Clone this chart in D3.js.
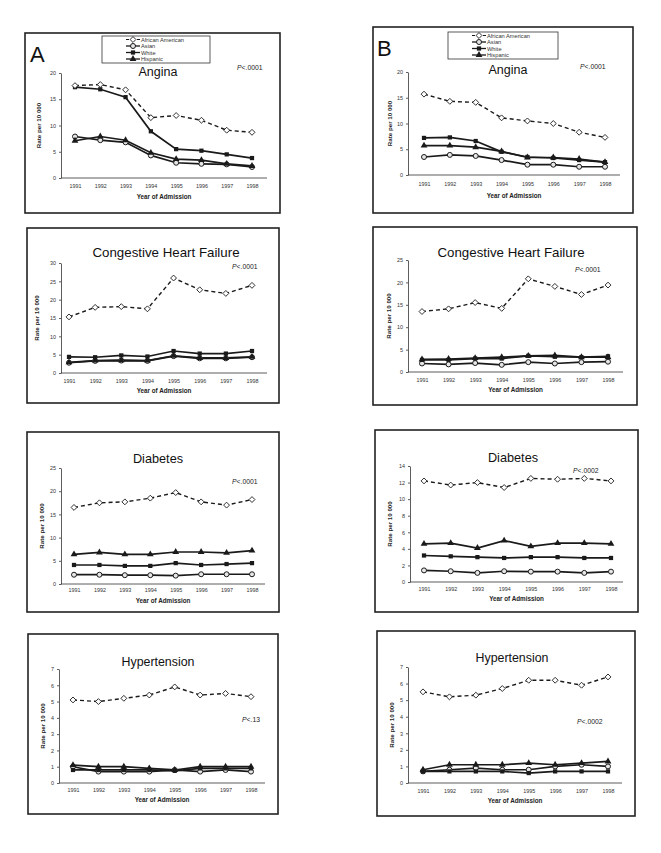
<!DOCTYPE html>
<html><head><meta charset="utf-8">
<script src="https://cdn.jsdelivr.net/npm/d3@7/dist/d3.min.js"></script>
<style>
html,body{margin:0;padding:0;background:#fff;}
svg{display:block;font-family:"Liberation Sans",Arial,sans-serif;}
</style></head>
<body>
<svg id="chart" width="661" height="853"></svg>
<script>
// ---------- DATA ----------
const years = [1991, 1992, 1993, 1994, 1995, 1996, 1997, 1998];
const seriesNames = ["African American", "Asian", "White", "Hispanic"];
const panelTitles = ["Angina", "Congestive Heart Failure", "Diabetes", "Hypertension"];
const panelLetters = ["A", "B"];
const pLabelsA = ["<.0001", "<.0001", "<.0001", "<.13"];
const pLabelsB = ["<.0001", "<.0001", "<.0002", "<.0002"];
const yTicksAngina = [0, 5, 10, 15, 20];
const yTicksChfA = [0, 5, 10, 15, 20, 25, 30];
const yTicksChfB = [0, 5, 10, 15, 20, 25];
const yTicksDiabA = [0, 5, 10, 15, 20, 25];
const yTicksDiabB = [0, 2, 4, 6, 8, 10, 12, 14];
const yTicksHtn = [0, 1, 2, 3, 4, 5, 6, 7];
const xAxisTitle = "Year of Admission";
const yAxisTitle = "Rate per 10 000";

const anginaA_AfricanAmerican = [17.6, 17.8, 16.8, 11.5, 11.9, 11.0, 9.1, 8.7];
const anginaA_Asian           = [7.9, 7.2, 6.8, 4.3, 2.9, 2.7, 2.6, 2.1];
const anginaA_White           = [17.3, 16.9, 15.4, 8.9, 5.5, 5.2, 4.5, 3.8];
const anginaA_Hispanic        = [7.1, 7.9, 7.2, 4.8, 3.6, 3.4, 2.7, 2.3];

const anginaB_AfricanAmerican = [15.7, 14.3, 14.1, 11.1, 10.5, 10.0, 8.3, 7.3];
const anginaB_Asian           = [3.5, 3.9, 3.7, 2.9, 2.0, 2.0, 1.6, 1.6];
const anginaB_White           = [7.2, 7.3, 6.6, 4.5, 3.5, 3.3, 2.9, 2.5];
const anginaB_Hispanic        = [5.7, 5.7, 5.4, 4.6, 3.4, 3.4, 3.1, 2.5];

const chfA_AfricanAmerican = [15.3, 17.9, 18.1, 17.5, 25.9, 22.7, 21.7, 23.9];
const chfA_Asian           = [2.8, 3.3, 3.4, 3.3, 4.6, 4.0, 4.0, 4.3];
const chfA_White           = [4.4, 4.3, 4.8, 4.5, 6.0, 5.3, 5.3, 6.0];
const chfA_Hispanic        = [2.9, 3.4, 3.5, 3.4, 4.7, 4.1, 4.1, 4.4];

const chfB_AfricanAmerican = [13.5, 14.1, 15.5, 14.2, 20.8, 19.1, 17.3, 19.4];
const chfB_Asian           = [1.9, 1.7, 2.0, 1.6, 2.2, 1.9, 2.2, 2.3];
const chfB_White           = [2.7, 2.7, 3.0, 3.0, 3.6, 3.4, 3.3, 3.5];
const chfB_Hispanic        = [2.8, 2.9, 3.1, 3.3, 3.6, 3.7, 3.3, 3.3];

const diabA_AfricanAmerican = [16.5, 17.5, 17.7, 18.5, 19.7, 17.7, 17.0, 18.2];
const diabA_Asian           = [2.0, 2.0, 1.9, 1.9, 1.8, 2.1, 2.1, 2.1];
const diabA_White           = [4.1, 4.1, 3.9, 3.9, 4.5, 4.1, 4.3, 4.5];
const diabA_Hispanic        = [6.4, 6.8, 6.4, 6.4, 6.9, 6.9, 6.7, 7.2];

const diabB_AfricanAmerican = [12.2, 11.7, 12.0, 11.4, 12.5, 12.4, 12.5, 12.2];
const diabB_Asian           = [1.4, 1.3, 1.1, 1.3, 1.25, 1.25, 1.1, 1.25];
const diabB_White           = [3.2, 3.1, 3.0, 2.9, 3.0, 3.0, 2.9, 2.9];
const diabB_Hispanic        = [4.6, 4.7, 4.1, 5.0, 4.3, 4.7, 4.7, 4.6];

const htnA_AfricanAmerican = [5.1, 5.0, 5.2, 5.4, 5.9, 5.4, 5.5, 5.3];
const htnA_Asian           = [1.0, 0.7, 0.7, 0.7, 0.8, 0.7, 0.8, 0.7];
const htnA_White           = [0.8, 0.8, 0.8, 0.8, 0.75, 0.9, 0.9, 0.9];
const htnA_Hispanic        = [1.1, 1.0, 1.0, 0.9, 0.8, 1.0, 1.0, 1.0];

const htnB_AfricanAmerican = [5.5, 5.2, 5.3, 5.7, 6.2, 6.2, 5.9, 6.4];
const htnB_Asian           = [0.7, 0.8, 0.9, 0.8, 0.8, 1.0, 1.1, 1.0];
const htnB_White           = [0.7, 0.7, 0.7, 0.7, 0.6, 0.7, 0.7, 0.7];
const htnB_Hispanic        = [0.8, 1.1, 1.1, 1.1, 1.2, 1.1, 1.2, 1.3];

// ---------- LAYOUT ----------
const panels = [
  {frame:[25,33,280,213], ax:61, axEnd:267, yTop:73, yBot:178, x0:75, x1:252, title:[158,76,12.5], p:[237,68], yearY:186, yoaY:197, ylabX:39,
   ticks:yTicksAngina, title_i:0, pLabel:pLabelsA[0], letter:[panelLetters[0],30,62], legend:[102,36,108,27],
   series:[anginaA_AfricanAmerican, anginaA_Asian, anginaA_White, anginaA_Hispanic]},
  {frame:[373,27,633,213], ax:408, axEnd:620, yTop:72, yBot:175, x0:424, x1:605, title:[508,74,12.5], p:[580,67], yearY:184, yoaY:196, ylabX:390,
   ticks:yTicksAngina, title_i:0, pLabel:pLabelsB[0], letter:[panelLetters[1],377,56], legend:[448,32,110,27],
   series:[anginaB_AfricanAmerican, anginaB_Asian, anginaB_White, anginaB_Hispanic]},
  {frame:[27,228,279,403], ax:61, axEnd:267, yTop:263, yBot:373, x0:69, x1:252, title:[166,257,13.3], p:[232,267], yearY:381, yoaY:391, ylabX:37,
   ticks:yTicksChfA, title_i:1, pLabel:pLabelsA[1],
   series:[chfA_AfricanAmerican, chfA_Asian, chfA_White, chfA_Hispanic]},
  {frame:[373,227,637,405], ax:408, axEnd:623, yTop:260, yBot:372, x0:422, x1:608, title:[511,257,13.3], p:[575,270], yearY:380, yoaY:390, ylabX:389,
   ticks:yTicksChfB, title_i:1, pLabel:pLabelsB[1],
   series:[chfB_AfricanAmerican, chfB_Asian, chfB_White, chfB_Hispanic]},
  {frame:[27,432,279,612], ax:61, axEnd:265, yTop:468, yBot:584, x0:74, x1:252, title:[158,463,12.7], p:[232,482], yearY:590, yoaY:601, ylabX:42,
   ticks:yTicksDiabA, title_i:2, pLabel:pLabelsA[2],
   series:[diabA_AfricanAmerican, diabA_Asian, diabA_White, diabA_Hispanic]},
  {frame:[375,430,638,612], ax:410, axEnd:623, yTop:466, yBot:582, x0:424, x1:611, title:[513,462,12.7], p:[573,471], yearY:589, yoaY:599, ylabX:390,
   ticks:yTicksDiabB, title_i:2, pLabel:pLabelsB[2],
   series:[diabB_AfricanAmerican, diabB_Asian, diabB_White, diabB_Hispanic]},
  {frame:[28,634,278,814], ax:59, axEnd:265, yTop:669, yBot:783, x0:73, x1:251, title:[158,666,12.4], p:[242,720], yearY:790, yoaY:800, ylabX:43,
   ticks:yTicksHtn, title_i:3, pLabel:pLabelsA[3],
   series:[htnA_AfricanAmerican, htnA_Asian, htnA_White, htnA_Hispanic]},
  {frame:[377,631,635,816], ax:408, axEnd:622, yTop:667, yBot:783, x0:423, x1:608, title:[512,662,12.4], p:[577,722], yearY:791, yoaY:801, ylabX:392,
   ticks:yTicksHtn, title_i:3, pLabel:pLabelsB[3],
   series:[htnB_AfricanAmerican, htnB_Asian, htnB_White, htnB_Hispanic]}
];

const ink = "#1a1a1a";
const svg = d3.select("#chart");

function drawMarker(g, kind, cx, cy) {
  if (kind === 0) { // open diamond
    g.append("path").attr("d", d3.symbol(d3.symbolDiamond2, 22)())
      .attr("transform", `translate(${cx},${cy})`).attr("fill", "#fff").attr("stroke", ink).attr("stroke-width", 0.9);
  } else if (kind === 1) { // open circle
    g.append("circle").attr("cx", cx).attr("cy", cy).attr("r", 2.5).attr("fill", "#e6e6e6").attr("stroke", ink).attr("stroke-width", 1);
  } else if (kind === 2) { // filled square
    g.append("path").attr("d", d3.symbol(d3.symbolSquare, 18)())
      .attr("transform", `translate(${cx},${cy})`).attr("fill", ink);
  } else { // filled triangle
    g.append("path").attr("d", d3.symbol(d3.symbolTriangle, 20)())
      .attr("transform", `translate(${cx},${cy})`).attr("fill", ink);
  }
}

panels.forEach(P => {
  const g = svg.append("g");
  const [fx0, fy0, fx1, fy1] = P.frame;
  g.append("rect").attr("x", fx0).attr("y", fy0).attr("width", fx1 - fx0).attr("height", fy1 - fy0)
    .attr("fill", "#fff").attr("stroke", "#222").attr("stroke-width", 1.6);

  const x = d3.scalePoint().domain(years).range([P.x0, P.x1]);
  const y = d3.scaleLinear().domain([0, d3.max(P.ticks)]).range([P.yBot, P.yTop]);

  // y axis
  const ya = g.append("g").attr("transform", `translate(${P.ax},0)`)
    .call(d3.axisLeft(y).tickValues(P.ticks).tickFormat(d3.format("d")).tickSize(2).tickSizeOuter(0).tickPadding(3));
  ya.select(".domain").attr("stroke", "#333").attr("stroke-width", 0.8);
  ya.selectAll(".tick line").attr("stroke", "#333").attr("stroke-width", 0.8);
  ya.selectAll("text").attr("font-size", 5.4).attr("fill", "#333").attr("font-family", "Liberation Sans, Arial, sans-serif");

  // x axis
  const xa = g.append("g").attr("transform", `translate(0,${P.yBot})`)
    .call(d3.axisBottom(x).tickSize(0).tickPadding(P.yearY - P.yBot - 2));
  xa.select(".domain").remove();
  xa.selectAll("text").attr("font-size", 5.4).attr("fill", "#333").attr("font-family", "Liberation Sans, Arial, sans-serif");
  g.append("line").attr("x1", P.ax).attr("x2", P.axEnd).attr("y1", y(0)).attr("y2", y(0))
    .attr("stroke", "#333").attr("stroke-width", 0.8);

  // axis titles
  g.append("text").attr("x", (P.ax + P.axEnd) / 2).attr("y", P.yoaY + 2.2)
    .attr("text-anchor", "middle").attr("font-size", 6.3).attr("font-weight", "bold").attr("fill", "#222").text(xAxisTitle);
  g.append("text").attr("transform", `translate(${P.ylabX + 2.2},${(P.yTop + P.yBot) / 2}) rotate(-90)`)
    .attr("text-anchor", "middle").attr("font-size", 6.2).attr("font-weight", "bold").attr("fill", "#222").text(yAxisTitle);

  // title & p value
  g.append("text").attr("x", P.title[0]).attr("y", P.title[1]).attr("text-anchor", "middle")
    .attr("font-size", P.title[2]).attr("fill", "#111").text(panelTitles[P.title_i]);
  const pt = g.append("text").attr("x", P.p[0]).attr("y", P.p[1] + 2.4).attr("font-size", 6.8).attr("fill", "#222");
  pt.append("tspan").attr("font-style", "italic").text("P");
  pt.append("tspan").text(P.pLabel);

  // series lines
  const line = d3.line().x((d, i) => x(years[i])).y(d => y(d));
  const order = [1, 3, 2, 0];
  order.forEach(k => {
    g.append("path").datum(P.series[k]).attr("d", line).attr("fill", "none")
      .attr("stroke", ink).attr("stroke-width", k === 0 ? 1.4 : 1.7)
      .attr("stroke-dasharray", k === 0 ? "4,3" : null);
  });
  order.forEach(k => {
    P.series[k].forEach((v, i) => drawMarker(g, k, x(years[i]), y(v)));
  });

  // letter + legend
  if (P.letter) {
    g.append("text").attr("x", P.letter[1]).attr("y", P.letter[2]).attr("font-size", 22).attr("fill", "#111").text(P.letter[0]);
  }
  if (P.legend) {
    const [lx, ly, lw, lh] = P.legend;
    const lg = g.append("g");
    lg.append("rect").attr("x", lx).attr("y", ly).attr("width", lw).attr("height", lh)
      .attr("fill", "#fff").attr("stroke", "#333").attr("stroke-width", 0.8);
    seriesNames.forEach((name, k) => {
      const cy = ly + 3.5 + k * 6.5;
      lg.append("line").attr("x1", lx + 24).attr("x2", lx + 38).attr("y1", cy).attr("y2", cy)
        .attr("stroke", ink).attr("stroke-width", k === 0 ? 1.1 : 1.3).attr("stroke-dasharray", k === 0 ? "3,2.5" : null);
      drawMarker(lg, k, lx + 31, cy);
      lg.append("text").attr("x", lx + 39).attr("y", cy + 2).attr("font-size", 5.7).attr("fill", "#333").text(name);
    });
  }
});
</script>
</body></html>
